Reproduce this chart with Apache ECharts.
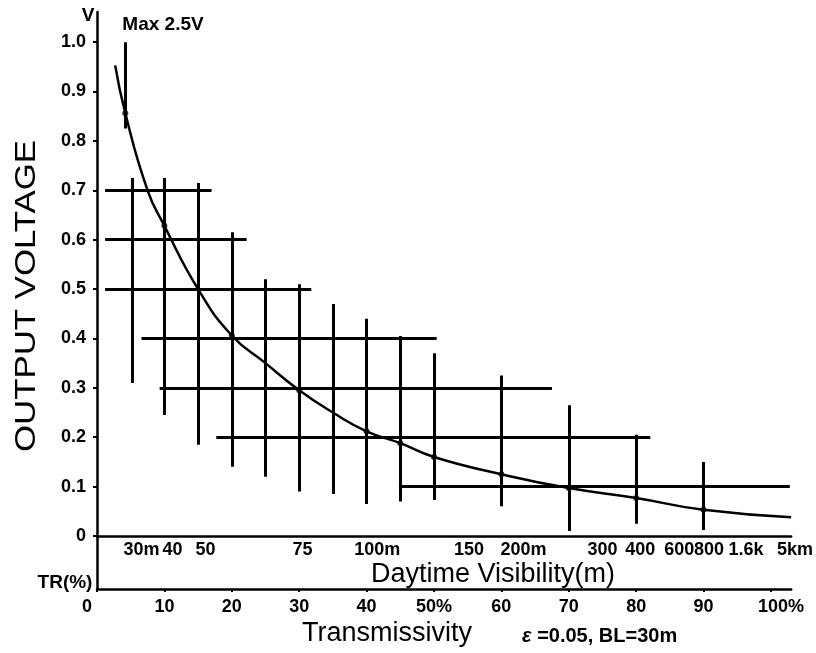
<!DOCTYPE html>
<html>
<head>
<meta charset="utf-8">
<script src="https://cdn.jsdelivr.net/npm/echarts@6/dist/echarts.min.js"></script>
<style>
  html, body { margin: 0; padding: 0; background: #fff; }
  #chart { width: 816px; height: 653px; }
</style>
</head>
<body>
<div id="chart"></div>
<script>
// curve: transmissivity (%) -> output voltage (V)
const curveT = [2.7, 4.2, 7.5, 10, 15, 20, 25, 30, 35, 40, 45, 50, 60, 70, 80, 90, 103]
const curveV = [0.953, 0.856, 0.70, 0.628, 0.50, 0.406, 0.35, 0.295, 0.25, 0.212, 0.188, 0.16, 0.125, 0.097, 0.077, 0.053, 0.038]

// marked points on the curve
const dotT = [4.2, 10, 20, 30, 40, 45, 50, 60, 70, 80, 90]
const dotV = [0.856, 0.628, 0.406, 0.295, 0.212, 0.188, 0.16, 0.125, 0.097, 0.077, 0.053]

// vertical bars (range of voltage at a transmissivity)
const vertT = [4.2, 5.3, 10, 15, 20, 25, 30, 35, 40, 45, 50, 60, 70, 80, 90]
const vertLow = [0.825, 0.31, 0.245, 0.185, 0.14, 0.12, 0.09, 0.085, 0.065, 0.07, 0.073, 0.06, 0.01, 0.025, 0.012]
const vertHigh = [1.0, 0.725, 0.725, 0.715, 0.615, 0.52, 0.51, 0.47, 0.44, 0.405, 0.37, 0.325, 0.265, 0.205, 0.15]

// horizontal bars (range of transmissivity at a voltage)
const horizV = [0.7, 0.6, 0.5, 0.4, 0.3, 0.2, 0.1]
const horizFrom = [1.2, 1.2, 1.2, 6.6, 9.3, 17.7, 44.8]
const horizTo = [17.0, 22.2, 31.8, 50.4, 67.5, 82.1, 102.8]

// axis labels
const yTicks = [0, 0.1, 0.2, 0.3, 0.4, 0.5, 0.6, 0.7, 0.8, 0.9, 1.0]
const yLabels = ['0', '0.1', '0.2', '0.3', '0.4', '0.5', '0.6', '0.7', '0.8', '0.9', '1.0']
const trTicks = [0, 10, 20, 30, 40, 50, 60, 70, 80, 90, 100]
const trLabels = ['0', '10', '20', '30', '40', '50%', '60', '70', '80', '90', '100%']
const visPos = [6.6, 11.2, 16.1, 30.5, 41.6, 55.2, 63.3, 75.0, 80.6, 86.4, 90.8, 96.3, 102.9]
const visLabels = ['30m', '40', '50', '75', '100m', '150', '200m', '300', '400', '600', '800', '1.6k', '5km']

const FONT = 'Liberation Sans, Arial, sans-serif'

const chart = echarts.init(document.getElementById('chart'))

const segs = []
vertT.forEach((t, i) => segs.push({ coords: [[t, vertLow[i]], [t, vertHigh[i]]] }))
horizV.forEach((v, i) => segs.push({ coords: [[horizFrom[i], v], [horizTo[i], v]] }))

const labelStyle = { color: '#000', fontFamily: FONT, fontWeight: 'bold', fontSize: 18 }

chart.setOption({
  animation: false,
  backgroundColor: '#fff',
  grid: { left: 97, right: 23, top: 12, bottom: 64 },
  xAxis: [{
    // visibility scale, drawn on the zero line
    type: 'value',
    min: 0,
    max: 103,
    position: 'bottom',
    offset: -53,
    axisLine: { onZero: false, lineStyle: { color: '#000', width: 2.5 } },
    axisTick: { show: false },
    splitLine: { show: false },
    axisLabel: {
      ...labelStyle,
      margin: 5,
      hideOverlap: false,
      showMinLabel: true,
      showMaxLabel: true,
      customValues: visPos,
      formatter: v => {
        const i = visPos.indexOf(v)
        const s = visLabels[i] || ''
        return i === visLabels.length - 1 ? '{r|' + s + '}' : s
      },
      rich: { r: { ...labelStyle, padding: [0, 0, 0, 9] } }
    }
  }, {
    // transmissivity scale
    type: 'value',
    min: 0,
    max: 103,
    position: 'bottom',
    axisLine: { onZero: false, lineStyle: { color: '#000', width: 2.5 } },
    axisTick: { show: true, customValues: trTicks, length: 3, lineStyle: { color: '#000', width: 2 } },
    splitLine: { show: false },
    axisLabel: {
      ...labelStyle,
      margin: 9,
      hideOverlap: false,
      customValues: trTicks,
      formatter: v => {
        const i = trTicks.indexOf(v)
        const s = trLabels[i] || ''
        if (i === 0) return '{l|' + s + '}'
        if (i === trLabels.length - 1) return '{r|' + s + '}'
        return s
      },
      rich: {
        l: { ...labelStyle, padding: [0, 20, 0, 0] },
        r: { ...labelStyle, padding: [0, 0, 0, 20] }
      }
    }
  }],
  yAxis: {
    type: 'value',
    min: -0.1073,
    max: 1.061,
    position: 'left',
    axisLine: { onZero: false, lineStyle: { color: '#000', width: 2.5 } },
    axisTick: { show: true, customValues: yTicks, length: 4, lineStyle: { color: '#000', width: 2 } },
    splitLine: { show: false },
    axisLabel: {
      ...labelStyle,
      margin: 11,
      hideOverlap: false,
      customValues: yTicks,
      formatter: v => yLabels[yTicks.indexOf(v)] || ''
    }
  },
  series: [{
    type: 'lines',
    coordinateSystem: 'cartesian2d',
    xAxisIndex: 0,
    yAxisIndex: 0,
    silent: true,
    lineStyle: { color: '#000', width: 3, opacity: 1 },
    data: segs
  }, {
    type: 'line',
    xAxisIndex: 0,
    smooth: 0.5,
    showSymbol: false,
    lineStyle: { color: '#000', width: 2.5 },
    data: curveT.map((t, i) => [t, curveV[i]])
  }, {
    type: 'scatter',
    xAxisIndex: 0,
    symbolSize: 6,
    itemStyle: { color: '#000' },
    data: dotT.map((t, i) => [t, dotV[i]])
  }],
  graphic: [
    { type: 'text', x: 27, y: 296, rotation: Math.PI / 2, scaleX: 1.2,
      style: { text: 'OUTPUT VOLTAGE', font: '29px ' + FONT, fill: '#000', textAlign: 'center', textVerticalAlign: 'middle' } },
    { type: 'text', x: 88, y: 16,
      style: { text: 'V', font: 'bold 19px ' + FONT, fill: '#000', textAlign: 'center', textVerticalAlign: 'middle' } },
    { type: 'text', x: 163, y: 25,
      style: { text: 'Max 2.5V', font: 'bold 19px ' + FONT, fill: '#000', textAlign: 'center', textVerticalAlign: 'middle' } },
    { type: 'text', x: 493, y: 575,
      style: { text: 'Daytime Visibility(m)', font: '27px ' + FONT, fill: '#000', textAlign: 'center', textVerticalAlign: 'middle' } },
    { type: 'text', x: 65, y: 583,
      style: { text: 'TR(%)', font: 'bold 19px ' + FONT, fill: '#000', textAlign: 'center', textVerticalAlign: 'middle' } },
    { type: 'text', x: 387, y: 634,
      style: { text: 'Transmissivity', font: '27px ' + FONT, fill: '#000', textAlign: 'center', textVerticalAlign: 'middle' } },
    { type: 'text', x: 522, y: 636,
      style: {
        text: '{e|ε} =0.05, BL=30m',
        font: 'bold 20px ' + FONT, fill: '#000', textAlign: 'left', textVerticalAlign: 'middle',
        rich: { e: { fontStyle: 'italic', fontWeight: 'bold', fontSize: 20, fontFamily: FONT, fill: '#000' } }
      } }
  ]
})
</script>
</body>
</html>
